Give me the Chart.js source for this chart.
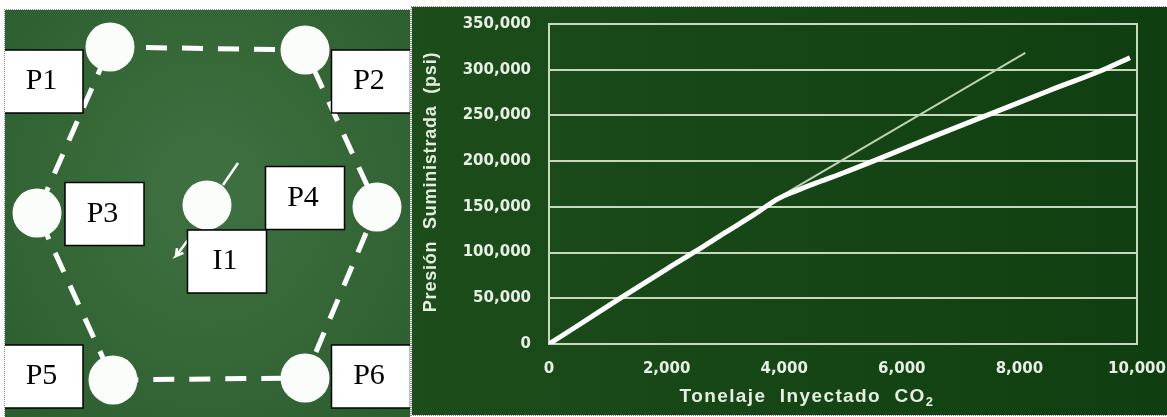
<!DOCTYPE html>
<html lang="es">
<head>
<meta charset="utf-8">
<script src="https://cdn.jsdelivr.net/npm/chart.js@4.4.1/dist/chart.umd.min.js"></script>
<style>
    html, body { margin: 0; padding: 0; background: #ffffff; }
    body { width: 1167px; height: 417px; position: relative; overflow: hidden; }
    canvas { display: block; }
    #panelIzq {
        position: absolute; left: 5px; top: 10px; width: 405px; height: 407px;
        outline: 1px dotted #8c8c8c;
        background: radial-gradient(ellipse at 50% 45%, #3f7143 0%, #366838 45%, #2c5d2f 100%);
    }
    #panelDer {
        position: absolute; left: 412px; top: 7px; width: 755px; height: 408px;
        outline: 1px dotted #8c8c8c;
        background: linear-gradient(to right, #1e4d1c, #0f3e10);
    }
    .tituloEje {
        position: absolute; color: #e6eee2; font-family: "Liberation Sans", Arial, sans-serif;
        font-weight: bold; white-space: pre; transform: translate(-50%, -50%);
    }
    #tituloX { left: 807px; top: 397px; font-size: 19px; letter-spacing: 1.4px; }
    #tituloX sub { font-size: 13px; vertical-align: -4px; }
    #tituloY { left: 430px; top: 182px; font-size: 18px; letter-spacing: 0.8px; transform: translate(-50%, -50%) rotate(-90deg); }
</style>
</head>
<body>
<div id="panelIzq"><canvas id="esquema" width="405" height="407"></canvas></div>
<div id="panelDer"><canvas id="graficoPresion" width="755" height="408"></canvas></div>
<div class="tituloEje" id="tituloX">Tonelaje  Inyectado  CO<sub>2</sub></div>
<div class="tituloEje" id="tituloY">Presión  Suministrada  (psi)</div>

<script>
    // Esquema de pozos (patrón hexagonal)
    const nombres = ['P1', 'P2', 'P3', 'P4', 'P5', 'P6', 'I1'];
    const pozoX = [105, 300, 32, 372, 108, 300, 202];
    const pozoY = [37, 40, 203, 197, 370, 368, 195];
    const etiquetaX = [38.5, 366, 99.5, 300, 38.5, 366, 222];
    const etiquetaY = [71.5, 71.5, 204, 188, 366.5, 366.5, 251.5];
    const ordenHexagono = [0, 1, 3, 5, 4, 2, 0];
    const trazoX = [218, 233];
    const trazoY = [175, 153];
    const flechaX = [183, 171, 178.4, 171, 172];
    const flechaY = [230, 246, 242.9, 246, 238.1];

    // Presión suministrada vs tonelaje inyectado
    const toneladas = [0, 500, 1207, 2000, 2511, 3000, 3500, 3900, 4200, 4600, 5000, 5629, 6500, 7444, 8500, 9427, 9880];
    const presion = [0, 20500, 50000, 82000, 102000, 122000, 142000, 159000, 167500, 177500, 187000, 203000, 226000, 250000, 277000, 300000, 313000];
    const tendenciaX = [3900, 8100];
    const tendenciaY = [160000, 318500];
    const ticksX = [0, 10000, 2000];
    const ticksY = [0, 350000, 50000];

    const aPuntos = (xs, ys) => xs.map((x, i) => ({ x: x, y: ys[i] }));

    const cajasPlugin = {
        id: 'cajas',
        afterDatasetsDraw(chart) {
            const ctx = chart.ctx;
            const sx = chart.scales.x, sy = chart.scales.y;
            ctx.save();
            ctx.font = '30px "Liberation Serif", "Times New Roman", serif';
            ctx.textAlign = 'center';
            ctx.textBaseline = 'middle';
            nombres.forEach((n, i) => {
                const cx = sx.getPixelForValue(etiquetaX[i]);
                const cy = sy.getPixelForValue(etiquetaY[i]);
                ctx.fillStyle = '#ffffff';
                ctx.fillRect(cx - 39.5, cy - 31.5, 79, 63);
                ctx.strokeStyle = '#000000';
                ctx.lineWidth = 1.5;
                ctx.strokeRect(cx - 39.5, cy - 31.5, 79, 63);
                ctx.fillStyle = '#000000';
                ctx.fillText(n, cx - 2, cy);
            });
            ctx.restore();
        }
    };

    const configEsquema = {
        type: 'scatter',
        data: {
            datasets: [
                {
                    data: aPuntos(pozoX, pozoY),
                    pointRadius: 24.5,
                    pointBackgroundColor: '#fbfdfb',
                    pointBorderWidth: 0,
                    clip: false,
                    order: 0
                },
                {
                    data: ordenHexagono.map(i => ({ x: pozoX[i], y: pozoY[i] })),
                    showLine: true,
                    borderColor: '#ffffff',
                    borderWidth: 5,
                    borderDash: [21, 15],
                    pointRadius: 0,
                    clip: false,
                    order: 1
                },
                {
                    data: aPuntos(trazoX, trazoY),
                    showLine: true,
                    borderColor: '#ffffff',
                    borderWidth: 2.5,
                    pointRadius: 0,
                    order: 1
                },
                {
                    data: aPuntos(flechaX, flechaY),
                    showLine: true,
                    borderColor: '#ffffff',
                    borderWidth: 2.5,
                    pointRadius: 0,
                    order: 1
                }
            ]
        },
        options: {
            responsive: false,
            animation: false,
            layout: { padding: 0, autoPadding: false },
            scales: {
                x: { min: 0, max: 405, display: false },
                y: { min: 0, max: 407, reverse: true, display: false }
            },
            plugins: {
                legend: { display: false },
                tooltip: { enabled: false }
            }
        },
        plugins: [cajasPlugin]
    };

    new Chart(document.getElementById('esquema').getContext('2d'), configEsquema);

    const colorRejilla = '#c6d9bf';
    const fuenteTicks = { family: '"DejaVu Sans", Verdana, sans-serif', size: 15, weight: 'bold' };

    const configPresion = {
        type: 'scatter',
        data: {
            datasets: [
                {
                    label: 'Presión',
                    data: aPuntos(toneladas, presion),
                    showLine: true,
                    borderColor: '#ffffff',
                    borderWidth: 5,
                    cubicInterpolationMode: 'monotone',
                    pointRadius: 0,
                    order: 0
                },
                {
                    label: 'Tendencia',
                    data: aPuntos(tendenciaX, tendenciaY),
                    showLine: true,
                    borderColor: '#bcd3b4',
                    borderWidth: 2,
                    pointRadius: 0,
                    order: 1
                }
            ]
        },
        options: {
            responsive: false,
            animation: false,
            locale: 'en-US',
            layout: { padding: { top: 17, right: 30, bottom: 0, left: 0 } },
            scales: {
                x: {
                    type: 'linear',
                    min: ticksX[0],
                    max: ticksX[1],
                    ticks: { stepSize: ticksX[2], color: '#e8efe4', font: fuenteTicks, padding: 16 },
                    grid: { display: false, drawTicks: false },
                    border: { display: false },
                    afterFit: function(scale) {
                        scale.height = 71;
                        scale.paddingLeft = 0;
                        scale.paddingRight = 0;
                    }
                },
                y: {
                    min: ticksY[0],
                    max: ticksY[1],
                    ticks: { stepSize: ticksY[2], color: '#e8efe4', font: fuenteTicks, padding: 18 },
                    grid: { color: colorRejilla, lineWidth: 2, drawTicks: false },
                    border: { display: true, color: colorRejilla, width: 2 },
                    afterFit: function(scale) {
                        scale.width = 137;
                        scale.paddingTop = 0;
                        scale.paddingBottom = 0;
                    }
                },
                yDer: {
                    position: 'right',
                    min: ticksY[0],
                    max: ticksY[1],
                    ticks: { display: false },
                    grid: { display: false, drawTicks: false },
                    border: { display: true, color: colorRejilla, width: 2 },
                    afterFit: function(scale) {
                        scale.width = 0;
                        scale.paddingTop = 0;
                        scale.paddingBottom = 0;
                    }
                }
            },
            plugins: {
                legend: { display: false },
                tooltip: { enabled: false }
            }
        }
    };

    new Chart(document.getElementById('graficoPresion').getContext('2d'), configPresion);
</script>
</body>
</html>
